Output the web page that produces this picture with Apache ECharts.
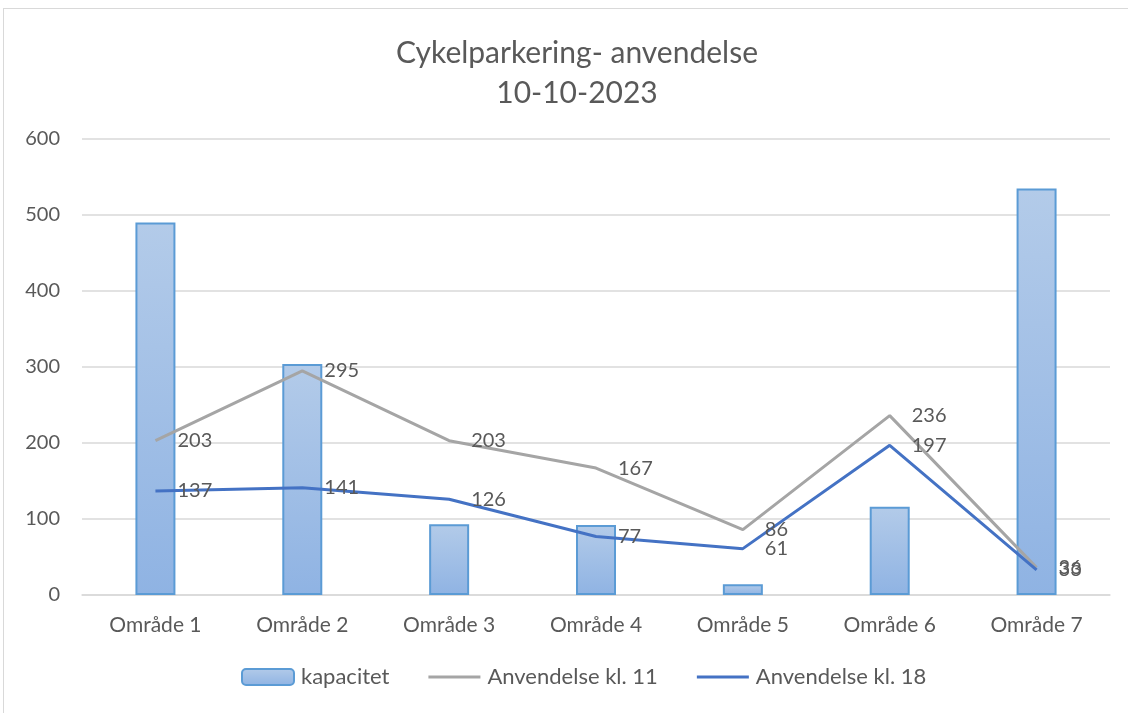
<!DOCTYPE html>
<html>
<head>
<meta charset="utf-8">
<script src="https://cdn.jsdelivr.net/npm/echarts@6/dist/echarts.min.js"></script>
<style>
  html, body { margin: 0; padding: 0; background: #fff; }
  #frame { position: absolute; left: 3px; top: 8px; width: 1130px; height: 710px; border: 1px solid #d9d9d9; box-sizing: border-box; }
  #chart { width: 1128px; height: 713px; position: absolute; left: 0; top: 0; }
</style>
</head>
<body>
<div id="frame"></div>
<div id="chart"></div>
<script>
const categories = ['Område 1', 'Område 2', 'Område 3', 'Område 4', 'Område 5', 'Område 6', 'Område 7']
const kapacitet = [490, 304, 93, 92, 14, 116, 535]
const kl11 = [203, 295, 203, 167, 86, 236, 36]
const kl18 = [137, 141, 126, 77, 61, 197, 33]

const textColor = '#595959'
const font = 'Lato, "Open Sans", sans-serif'

const chart = echarts.init(document.getElementById('chart'))

// labels sit right of each point, like the excel original
const lineLabel = {
  show: true,
  position: 'right',
  distance: 22,
  color: textColor,
  fontSize: 20,
  fontFamily: font,
}

const option = {
  animation: false,
  title: {
    text: 'Cykelparkering- anvendelse\n10-10-2023',
    left: 572,
    textAlign: 'center',
    top: 28,
    textStyle: {
      color: textColor,
      fontSize: 30,
      fontWeight: 'normal',
      fontFamily: font,
      lineHeight: 40,
    },
  },
  grid: {
    left: 82,
    right: 18,
    top: 139,
    bottom: 118,
  },
  legend: {
    bottom: 20,
    left: 236,
    itemGap: 39,
    itemWidth: 52,
    itemHeight: 16,
    textStyle: { color: textColor, fontSize: 22, fontFamily: font, padding: [0, 0, 0, 2] },
    data: [
      { name: 'kapacitet' },
      { name: 'Anvendelse kl. 11', icon: 'path://M0,0 L52,0 L52,3 L0,3 Z' },
      { name: 'Anvendelse kl. 18', icon: 'path://M0,0 L52,0 L52,3 L0,3 Z' },
    ],
  },
  xAxis: {
    type: 'category',
    data: categories,
    axisLine: { lineStyle: { color: '#d9d9d9', width: 1.5 } },
    axisTick: { show: false },
    axisLabel: { color: textColor, fontSize: 21, fontFamily: font, margin: 20 },
  },
  yAxis: {
    type: 'value',
    min: 0,
    max: 600,
    interval: 100,
    axisLine: { show: false },
    axisTick: { show: false },
    splitLine: { lineStyle: { color: '#d9d9d9', width: 1.5 } },
    axisLabel: { color: textColor, fontSize: 20, fontFamily: font, margin: 22 },
  },
  series: [
    {
      name: 'kapacitet',
      type: 'bar',
      data: kapacitet,
      barWidth: 40,
      itemStyle: {
        color: new echarts.graphic.LinearGradient(0, 0, 0, 1, [
          { offset: 0, color: '#b3cbe9' },
          { offset: 1, color: '#8fb3e3' },
        ]),
        borderColor: '#5b9bd5',
        borderWidth: 2,
      },
    },
    {
      name: 'Anvendelse kl. 11',
      type: 'line',
      data: kl11,
      symbol: 'circle',
      symbolSize: 0,
      itemStyle: { color: '#a5a5a5' },
      lineStyle: { color: '#a5a5a5', width: 3 },
      label: lineLabel,
    },
    {
      name: 'Anvendelse kl. 18',
      type: 'line',
      data: kl18,
      symbol: 'circle',
      symbolSize: 0,
      itemStyle: { color: '#4472c4' },
      lineStyle: { color: '#4472c4', width: 3 },
      label: lineLabel,
    },
  ],
}

option && chart.setOption(option)
</script>
</body>
</html>
